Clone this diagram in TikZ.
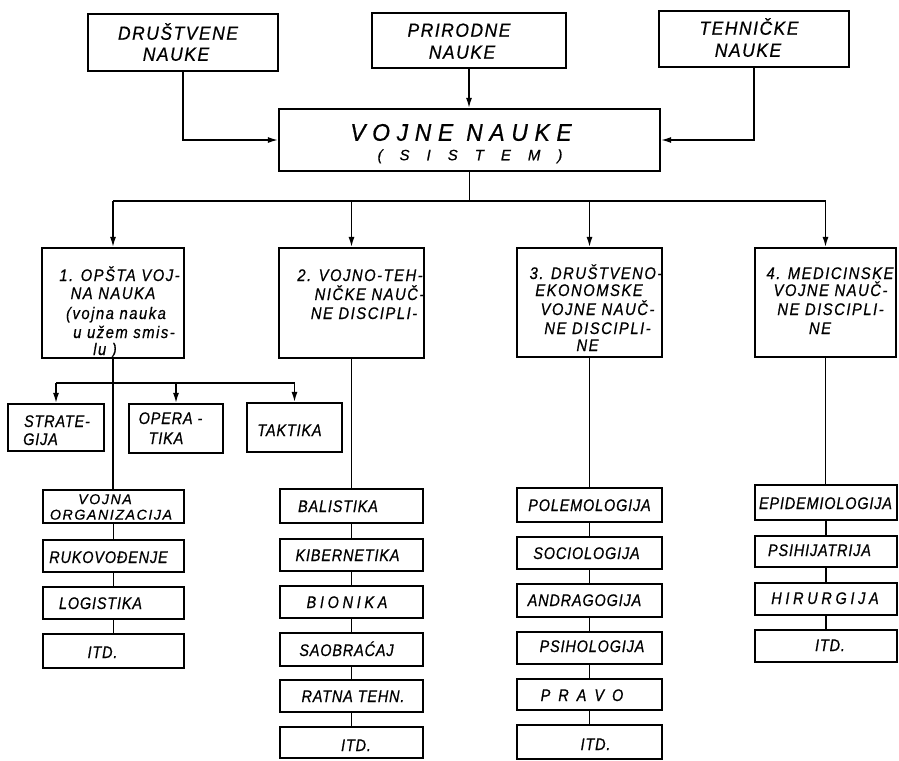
\documentclass[tikz,border=0pt]{standalone}
\usepackage{fontspec}
\setmainfont{Liberation Sans}
\usetikzlibrary{arrows.meta}
\newcommand\mybox[5]{\node[box, minimum width={(#4-#2)*1pt}, minimum height={(#5-#3)*1pt}] (#1) at ({(#2+#4)/2},{(#3+#5)/2}) {};}
\newcommand\mytxt[5]{\node[#2] (#1) at (#3,#4) {#5};}
\tikzset{
  box/.style={draw, line width=2.2pt, inner sep=0pt, fill=white},
  conn/.style={line width=1.4pt},
  arr/.style={conn, -{Latex[length=10pt,width=6pt]}},
  topf/.style={inner sep=0pt, text height=13.5pt, text depth=0pt, font=\fontsize{19}{21}\selectfont\itshape\addfontfeature{LetterSpace=8,FakeStretch=0.92,FakeBold=0.6}},
  titf/.style={inner sep=0pt, text height=17.5pt, text depth=0pt, font=\fontsize{24}{27}\selectfont\itshape\addfontfeature{LetterSpace=28,FakeStretch=0.95,FakeBold=0.6}},
  subt/.style={inner sep=0pt, text height=10.5pt, text depth=0pt, font=\fontsize{15}{17}\selectfont\itshape\addfontfeature{FakeBold=0.6}},
  midf/.style={inner sep=0pt, text height=12pt, text depth=0pt, font=\fontsize{16.8}{18}\selectfont\itshape\addfontfeature{LetterSpace=9,FakeStretch=0.88,FakeBold=0.6}},
  lf/.style={inner sep=0pt, text height=12pt, text depth=0pt, font=\fontsize{16.8}{17}\selectfont\itshape\addfontfeature{LetterSpace=5,FakeStretch=0.86,FakeBold=0.6}},
  lfw/.style={inner sep=0pt, text height=12pt, text depth=0pt, font=\fontsize{16.8}{17}\selectfont\itshape\addfontfeature{LetterSpace=22,FakeStretch=0.86,FakeBold=0.6}},
  lfs/.style={inner sep=0pt, text height=10.2pt, text depth=0pt, font=\fontsize{14.2}{15}\selectfont\itshape\addfontfeature{LetterSpace=11,FakeBold=0.5}},
}
\begin{document}
\begin{tikzpicture}[x=1pt,y=-1pt]
\useasboundingbox[fill=white] (0,0) rectangle (899,760);
% top boxes
\mybox{dr}{88}{14}{278}{71}
\mybox{pr}{372}{13}{566}{68}
\mybox{te}{659}{11}{849}{67}
\mybox{vo}{279}{109}{660}{171}
\mytxt{dr1}{topf}{178}{33}{DRUŠTVENE}
\mytxt{dr2}{topf}{176}{54}{NAUKE}
\mytxt{pr1}{topf}{459}{30}{PRIRODNE}
\mytxt{pr2}{topf}{462}{52}{NAUKE}
\mytxt{te1}{topf}{749}{28}{TEHNIČKE}
\mytxt{te2}{topf}{748}{50}{NAUKE}
\mytxt{vo1}{titf}{461}{132}{VOJNE NAUKE}
\mytxt{vo2}{subt}{470}{155}{(\kern17pt S\kern17pt I\kern17pt S\kern17pt T\kern17pt E\kern17pt M\kern17pt )}
% second level
\mybox{b1}{42}{248}{184}{358}
\mybox{b2}{279}{248}{424}{358}
\mybox{b3}{517}{248}{662}{357}
\mybox{b4}{755}{248}{896}{357}
\mytxt{b1a}{midf}{119.5}{275}{1. OPŠTA VOJ-}
\mytxt{b1b}{midf}{113}{293}{NA NAUKA}
\mytxt{b1c}{midf}{116}{313}{(vojna nauka}
\mytxt{b1d}{midf}{124}{332}{u užem smis-}
\mytxt{b1e}{midf}{105}{349}{lu )}
\mytxt{b2a}{midf}{360}{275}{2. VOJNO-TEH-}
\mytxt{b2b}{midf}{369.5}{294}{NIČKE NAUČ-}
\mytxt{b2c}{midf}{364}{313}{NE DISCIPLI-}
\mytxt{b3a}{midf}{596}{273}{3. DRUŠTVENO-}
\mytxt{b3b}{midf}{589}{290}{EKONOMSKE}
\mytxt{b3c}{midf}{597.5}{309}{VOJNE NAUČ-}
\mytxt{b3d}{midf}{597.5}{328}{NE DISCIPLI-}
\mytxt{b3e}{midf}{587.5}{345}{NE}
\mytxt{b4a}{midf}{830}{273}{4. MEDICINSKE}
\mytxt{b4b}{midf}{830.5}{290}{VOJNE NAUČ-}
\mytxt{b4c}{midf}{830.5}{309}{NE DISCIPLI-}
\mytxt{b4d}{midf}{820}{328}{NE}
% sub boxes of 1
\mybox{st}{8}{404}{104}{451}
\mybox{op}{129}{404}{223}{453}
\mybox{tk}{247}{403}{342}{452}
\mytxt{st1}{lf}{57}{421}{STRATE-}
\mytxt{st2}{lf}{40.5}{439}{GIJA}
\mytxt{op1}{lf}{170.5}{418}{OPERA -}
\mytxt{op2}{lf}{166}{438}{TIKA}
\mytxt{tk1}{lf}{289.5}{430}{TAKTIKA}
% column 1
\mybox{c1a}{43}{490}{184}{523}
\mybox{c1b}{43}{540}{184}{572}
\mybox{c1c}{43}{587}{184}{619}
\mybox{c1d}{43}{634}{184}{668}
\mytxt{c1a1}{lfs}{105}{499}{VOJNA}
\mytxt{c1a2}{lfs}{111}{514.5}{ORGANIZACIJA}
\mytxt{c1b1}{lf}{108.5}{557}{RUKOVOĐENJE}
\mytxt{c1c1}{lf}{100.5}{603}{LOGISTIKA}
\mytxt{c1d1}{lf}{102.5}{652}{ITD.}
% column 2
\mybox{c2a}{280}{489}{423}{523}
\mybox{c2b}{280}{539}{423}{571}
\mybox{c2c}{280}{586}{423}{618}
\mybox{c2d}{280}{633}{423}{666}
\mybox{c2e}{280}{680}{423}{712}
\mybox{c2f}{280}{727}{423}{758}
\mytxt{c2a1}{lf}{338}{506}{BALISTIKA}
\mytxt{c2b1}{lf}{347.5}{555}{KIBERNETIKA}
\mytxt{c2c1}{lfw}{347}{602}{BIONIKA}
\mytxt{c2d1}{lf}{346.5}{650}{SAOBRAĆAJ}
\mytxt{c2e1}{lf}{353}{696}{RATNA TEHN.}
\mytxt{c2f1}{lf}{356}{745}{ITD.}
% column 3
\mybox{c3a}{517}{488}{662}{522}
\mybox{c3b}{517}{537}{662}{569}
\mybox{c3c}{517}{584}{662}{617}
\mybox{c3d}{517}{632}{662}{664}
\mybox{c3e}{517}{679}{662}{710}
\mybox{c3f}{517}{725}{662}{759}
\mytxt{c3a1}{lf}{589.5}{505}{POLEMOLOGIJA}
\mytxt{c3b1}{lf}{586.5}{553}{SOCIOLOGIJA}
\mytxt{c3c1}{lf}{584.5}{600}{ANDRAGOGIJA}
\mytxt{c3d1}{lf}{592}{646}{PSIHOLOGIJA}
\mytxt{c3e1}{lf}{582}{695}{P\kern8pt R\kern8pt A\kern8pt V\kern8pt O}
\mytxt{c3f1}{lf}{595.5}{744}{ITD.}
% column 4
\mybox{c4a}{755}{485}{897}{520}
\mybox{c4b}{755}{536}{897}{567}
\mybox{c4c}{755}{583}{897}{615}
\mybox{c4d}{755}{630}{897}{662}
\mytxt{c4a1}{lf}{825.5}{503}{EPIDEMIOLOGIJA}
\mytxt{c4b1}{lf}{819.5}{550}{PSIHIJATRIJA}
\mytxt{c4c1}{lfw}{825}{598}{HIRURGIJA}
\mytxt{c4d1}{lf}{830}{645}{ITD.}
% connectors top
\draw[arr] (dr.south) |- (vo.west);
\draw[arr] (pr.south) -- (pr.south |- vo.north);
\draw[arr] (te.south) |- (vo.east);
\coordinate (ly) at (0,201);
\draw[conn] (vo.south) -- (vo.south |- ly);
\draw[conn] (b1.north |- ly) -- (b4.north |- ly);
\foreach \n in {b1,b2,b3,b4} \draw[arr] (\n.north |- ly) -- (\n.north);
% sub branch
\coordinate (sy) at (0,383);
\draw[conn] (st.north |- sy) -- (tk.north |- sy);
\foreach \n in {st,op,tk} \draw[arr] (\n.north |- sy) -- (\n.north);
\draw[conn] (b1.south) -- (b1.south |- c1a.north);
\draw[conn] (c1a.south) -- (c1b.north);
\draw[conn] (c1b.south) -- (c1c.north);
\draw[conn] (c1c.south) -- (c1d.north);
% column 2
\draw[conn] (b2.south) -- (c2a.north);
\draw[conn] (c2a.south) -- (c2b.north);
\draw[conn] (c2b.south) -- (c2c.north);
\draw[conn] (c2c.south) -- (c2d.north);
\draw[conn] (c2d.south) -- (c2e.north);
\draw[conn] (c2e.south) -- (c2f.north);
% column 3
\draw[conn] (b3.south) -- (c3a.north);
\draw[conn] (c3a.south) -- (c3b.north);
\draw[conn] (c3b.south) -- (c3c.north);
\draw[conn] (c3c.south) -- (c3d.north);
\draw[conn] (c3d.south) -- (c3e.north);
\draw[conn] (c3e.south) -- (c3f.north);
% column 4
\draw[conn] (b4.south) -- (b4.south |- c4a.north);
\draw[conn] (c4a.south) -- (c4b.north);
\draw[conn] (c4b.south) -- (c4c.north);
\draw[conn] (c4c.south) -- (c4d.north);
\end{tikzpicture}
\end{document}
